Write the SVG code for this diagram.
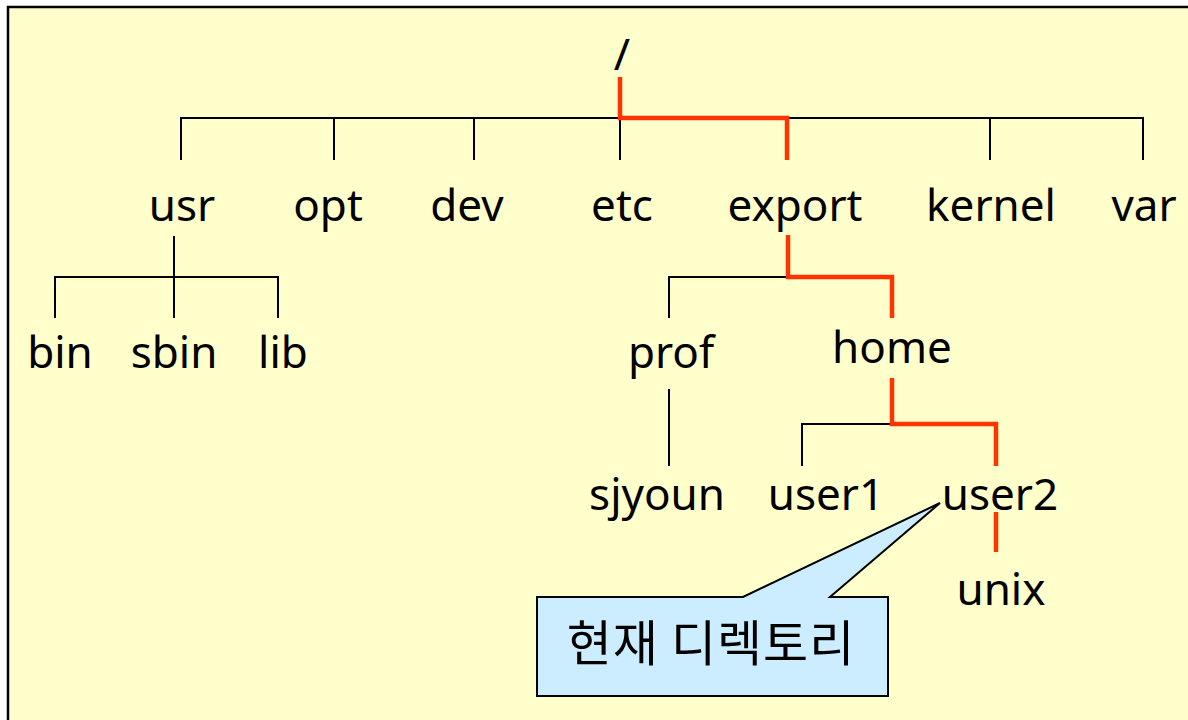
<svg xmlns="http://www.w3.org/2000/svg" width="1188" height="720" viewBox="0 0 1188 720">
<style>
.t{font-family:"Noto Sans","Open Sans","Liberation Sans",sans-serif;font-size:44px;fill:#000;text-anchor:middle}
.k{font-family:"Noto Sans CJK KR","Noto Sans",sans-serif;font-size:49px;fill:#000;text-anchor:middle;letter-spacing:1px}
.b{fill:none;stroke:#000;stroke-width:2}
.r{fill:none;stroke:#FF3300;stroke-width:4.5}
</style>
<rect x="0" y="0" width="1188" height="720" fill="#fff"/>
<rect x="8" y="7" width="1190" height="720" fill="#FFFFCC" stroke="#000" stroke-width="2.5"/>
<g id="connectors">
<path class="b" d="M181,160V118H1143V160M334,118V160M474,118V160M620,118V160M990,118V160"/>
<path class="b" d="M174,236V318M55,318V277H278V318"/>
<path class="b" d="M669,318V277H788M669,389V466"/>
<path class="b" d="M802,466V424H892"/>
<path class="r" d="M620,77V118H787V160"/>
<path class="r" d="M788,235V277H892V318"/>
<path class="r" d="M892,378V424H996V466"/>
<path class="r" d="M996,512V552"/>
</g>
<g id="root"><text class="t" x="622" y="70">/</text></g>
<g id="usr"><text class="t" x="182" y="221">usr</text></g>
<g id="opt"><text class="t" x="328" y="221">opt</text></g>
<g id="dev"><text class="t" x="467" y="221">dev</text></g>
<g id="etc"><text class="t" x="622" y="221">etc</text></g>
<g id="export"><text class="t" x="795" y="221">export</text></g>
<g id="kernel"><text class="t" x="991" y="221">kernel</text></g>
<g id="var"><text class="t" x="1144" y="221">var</text></g>
<g id="bin"><text class="t" x="60" y="368">bin</text></g>
<g id="sbin"><text class="t" x="174" y="368">sbin</text></g>
<g id="lib"><text class="t" x="283" y="368">lib</text></g>
<g id="prof"><text class="t" x="671" y="368">prof</text></g>
<g id="home"><text class="t" x="892" y="363">home</text></g>
<g id="sjyoun"><text class="t" x="657" y="510">sjyoun</text></g>
<g id="user1"><text class="t" x="826" y="510">user1</text></g>
<g id="user2"><text class="t" x="1000" y="510">user2</text></g>
<g id="unix"><text class="t" x="1001" y="605">unix</text></g>
<g id="callout">
<path d="M537,597H743L940,503L830,597H888V696H537Z" fill="#CCECFF" stroke="#000" stroke-width="2"/>
<text class="k" x="711" y="661">현재 디렉토리</text>
</g>
</svg>
